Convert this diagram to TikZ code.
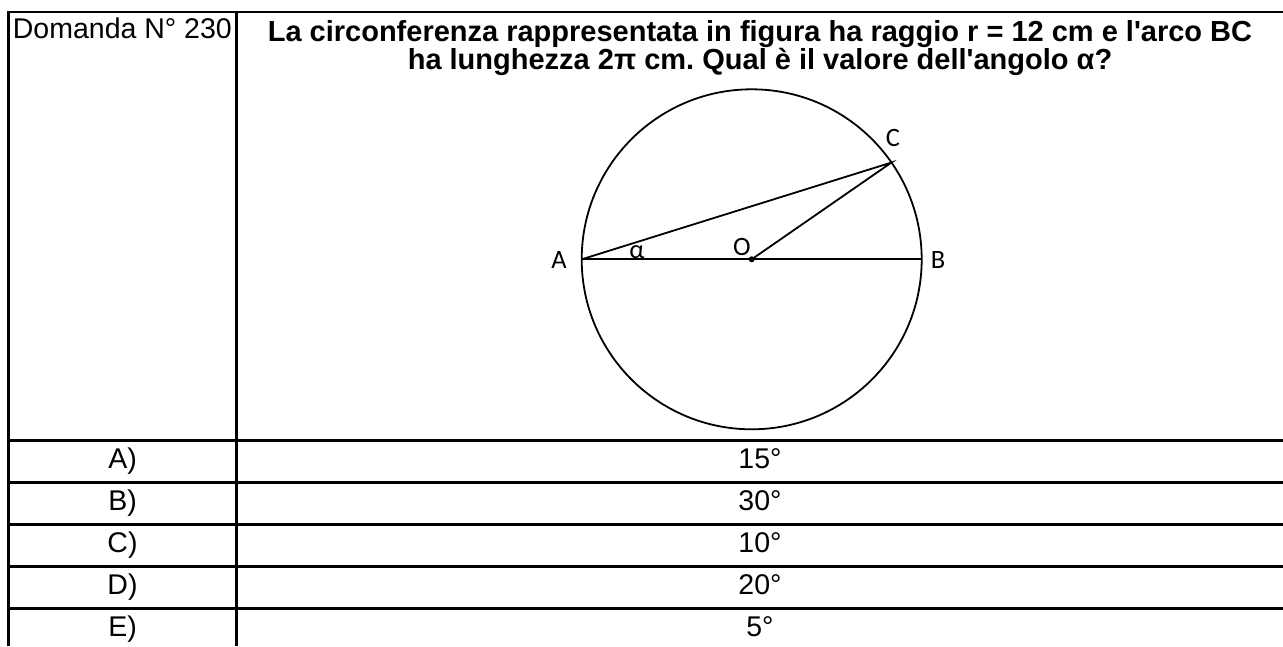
\documentclass[tikz,border=0pt]{standalone}
\usepackage{fontspec}
\usetikzlibrary{calc}
\setmainfont{Liberation Sans}[Ligatures=TeXOff]
\newfontfamily\figfont{Carlito}
\frenchspacing
\begin{document}
\begin{tikzpicture}[x=1pt,y=-1pt,
  tline/.style={line width=2.6pt},
  fline/.style={line width=1.8pt},
  txt/.style={inner sep=0pt,font=\fontsize{28.5}{34}\selectfont},
  btxt/.style={inner sep=0pt,font=\fontsize{29}{34}\selectfont\bfseries},
  flabel/.style={inner sep=0pt,font=\fontsize{26.5}{30}\selectfont\figfont}]
\useasboundingbox (0,0) rectangle (1283,646);
\fill[white] (0,0) rectangle (1283,646);
% table lines
\coordinate (tl) at (8.7,12);
\coordinate (tr) at (1283,12);
\draw[tline] (tr) -- (tl) -- (8.7,646);
\draw[tline] (236.7,12) -- (236.7,646);
\foreach \y in {440.7,482.7,524.7,566.7,608.7}{
  \draw[tline] (8.7,\y) -- (1283,\y);
}
% header texts
\node[txt,anchor=base west] (dom) at (12.7,38.5) {Domanda N° 230};
\node[btxt,anchor=base] (q1) at (760,41) {La circonferenza rappresentata in figura ha raggio r = 12 cm e l'arco BC};
\node[btxt,anchor=base] (q2) at (760,69.5) {ha lunghezza 2π cm. Qual è il valore dell'angolo α?};
% answers
\foreach \l/\v/\b in {A)/15°/468.3, B)/30°/510.3, C)/10°/552.3, D)/20°/594.3, E)/5°/636.3}{
  \node[txt,anchor=base] at (122.5,\b) {\l};
  \node[txt,anchor=base] at (760,\b) {\v};
}
% figure
\coordinate (O) at (751.7,259.3);
\coordinate (A) at (581.7,259.3);
\coordinate (B) at (921.7,259.3);
\coordinate (C) at ($(O)+(-34.7:170)$);
\draw[fline] (O) circle[radius=170];
\draw[fline] (A) -- (B);
\draw[fline] (A) -- (C) -- (O);
\fill (O) circle[radius=3];
\node[flabel] (lA) at (559,260) {A};
\node[flabel] (lB) at (938,260) {B};
\node[flabel] (lC) at (893,138) {C};
\node[flabel] (lO) at (742,246.7) {O};
\node[flabel] (la) at (637,252) {α};
\end{tikzpicture}
\end{document}
